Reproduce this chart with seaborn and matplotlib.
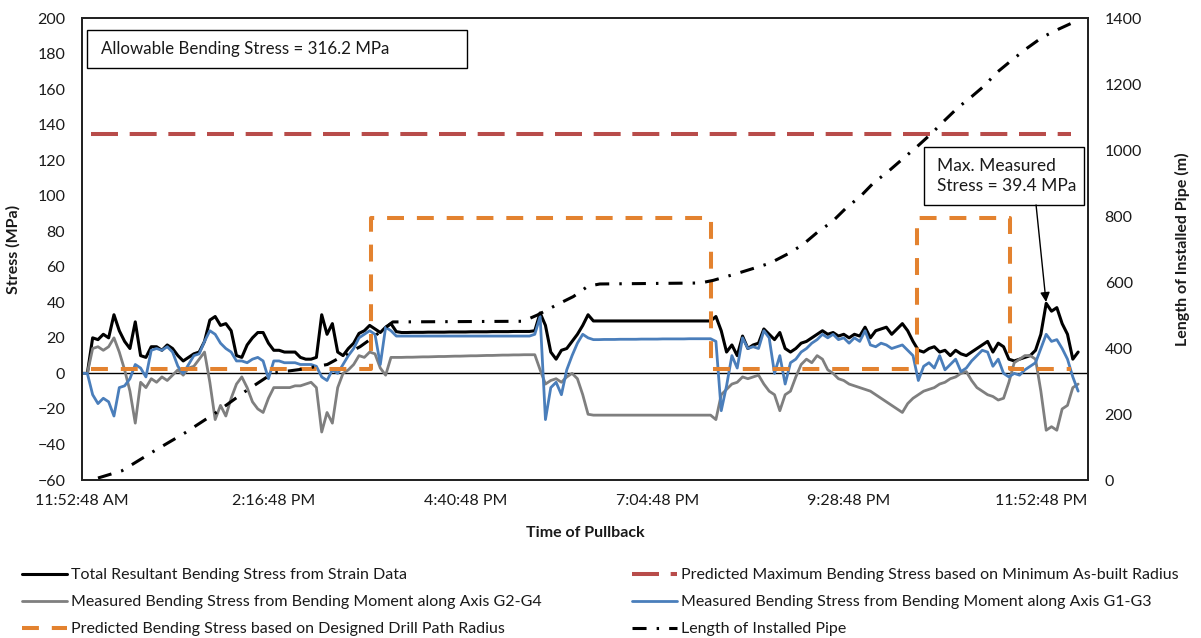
import numpy as np
import pandas as pd
import matplotlib
matplotlib.use("Agg")
import matplotlib.pyplot as plt
import seaborn as sns
from matplotlib.patches import Rectangle

# ---------------- data ----------------
START_H = 11.88  # 11:52:48 AM in hours

# logger time stamps, minutes after 11:52:48 AM
time_min = [
    0, 4, 8, 12, 16, 20, 24, 28, 32, 36,
    40, 44, 48, 52, 56, 60, 64, 68, 72, 76,
    80, 84, 88, 92, 96, 100, 104, 108, 112, 116,
    120, 124, 128, 132, 136, 140, 144, 148, 152, 156,
    160, 164, 168, 172, 176, 180, 184, 188, 192, 196,
    200, 204, 208, 212, 216, 220, 224, 228, 232, 236,
    240, 244, 248, 252, 256, 260, 264, 268, 272, 276,
    280, 284, 288, 292, 296, 300, 304, 308, 312, 316,
    320, 324, 328, 332, 336, 340, 344, 348, 352, 356,
    360, 364, 368, 372, 376, 380, 384, 388, 392, 396,
    400, 404, 408, 412, 416, 420, 424, 428, 432, 436,
    440, 444, 448, 452, 456, 460, 464, 468, 472, 476,
    480, 484, 488, 492, 496, 500, 504, 508, 512, 516,
    520, 524, 528, 532, 536, 540, 544, 548, 552, 556,
    560, 564, 568, 572, 576, 580, 584, 588, 592, 596,
    600, 604, 608, 612, 616, 620, 624, 628, 632, 636,
    640, 644, 648, 652, 656, 660, 664, 668, 672, 676,
    680, 684, 688, 692, 696, 700, 704, 708, 712, 716,
    720, 724, 728, 732, 736, 740, 744, 748,
]

total_stress = [
    0, 0, 20, 19, 22, 20, 33, 24, 18, 14,
    29, 10, 9, 15, 15, 13, 16, 14, 10, 7,
    9, 11, 12, 18, 30, 32, 27, 28, 24, 10,
    9, 16, 20, 23, 23, 17, 13, 13, 12, 12,
    12, 9, 8, 8, 9, 33, 22, 28, 12, 10,
    14, 17, 22.5, 24, 27, 25, 23, 26, 28, 23.5,
    23.0, 23.0, 23.1, 23.1, 23.1, 23.2, 23.2, 23.2, 23.2, 23.3,
    23.3, 23.3, 23.3, 23.4, 23.4, 23.4, 23.4, 23.5, 23.5, 23.5,
    23.5, 23.6, 23.6, 23.6, 23.6, 24, 34, 27, 12, 8,
    13, 14, 18, 22, 27, 33, 29.5, 29.5, 29.5, 29.5,
    29.5, 29.5, 29.5, 29.5, 29.5, 29.5, 29.5, 29.5, 29.5, 29.5,
    29.5, 29.5, 29.5, 29.5, 29.5, 29.5, 29.5, 29.5, 29.5, 32,
    24, 12, 16, 10, 21, 14, 16, 17, 25, 22,
    19, 23, 14, 12, 14, 17, 18, 20, 22, 24,
    22, 23, 21, 22, 20, 22, 21, 26, 20, 24,
    25, 26, 22, 25, 28, 24, 18, 13, 12, 14,
    15, 12, 13, 10, 13, 11, 10, 12, 14, 16,
    18, 12, 17, 15, 8, 7, 8, 9, 10, 13,
    22, 39.4, 35, 37, 28, 22, 8, 12,
]

g2g4_stress = [
    0, 0, 14, 15, 13, 15, 20, 12, 2, -10,
    -28, -5, -8, -3, -5, -2, -4, -1, 2, -1,
    3, 4, 8, 12, -5, -26, -18, -24, -14, -6,
    -2, -8, -16, -20, -22, -14, -8, -8, -8, -8,
    -7, -7, -6, -5, -8, -33, -22, -28, -8, 0,
    2, 5, 10, 9, 12, 11, 3, -1, 9, 9,
    9.0, 9.1, 9.1, 9.2, 9.3, 9.3, 9.4, 9.5, 9.5, 9.6,
    9.7, 9.7, 9.8, 9.9, 9.9, 10.0, 10.1, 10.1, 10.2, 10.3,
    10.3, 10.4, 10.4, 10.5, 10.5, 10.5, 2, -6, -4, -3,
    -5, -2, 0, -3, -12, -23, -23.5, -23.5, -23.5, -23.5,
    -23.5, -23.5, -23.5, -23.5, -23.5, -23.5, -23.5, -23.5, -23.5, -23.5,
    -23.5, -23.5, -23.5, -23.5, -23.5, -23.5, -23.5, -23.5, -23.5, -26,
    -12, -9, -6, -5, -2, -3, -2, -1, -6, -10,
    -12, -21, -12, -10, -2, 5, 8, 6, 10, 8,
    2, 0, -3, -4, -6, -7, -8, -9, -10, -12,
    -14, -16, -18, -20, -22, -17, -14, -12, -10, -9,
    -8, -6, -5, -3, -2, 0, 1, -4, -8, -10,
    -12, -13, -15, -14, -5, 6, 8, 10, 10, 8,
    -10, -32, -30, -32, -20, -18, -8, -6,
]

g1g3_stress = [
    0, 0, -12, -17, -14, -16, -24, -8, -7, -3,
    5, 3, -2, 13, 14, 13, 15, 12, 4, 0,
    5, 10, 11, 18, 24, 22, 17, 14, 12, 7,
    7, 6, 8, 9, 7, -3, 7, 7, 6, 6,
    6, 5, 5, 5, 4, -2, -4, 2, 0, 5,
    10, 14, 20, 22, 24, 22, 5, 26, 24, 21,
    21, 21, 21, 21, 21, 21, 21, 21, 21, 21,
    21, 21, 21, 21, 21, 21, 21, 21, 21, 21,
    21, 21, 21, 21, 21, 22, 32, -26, -8, -5,
    -12, 2, 10, 17, 22, 20, 19.0, 19.0, 19.1, 19.1,
    19.1, 19.2, 19.2, 19.2, 19.2, 19.3, 19.3, 19.3, 19.3, 19.4,
    19.4, 19.4, 19.4, 19.4, 19.5, 19.5, 19.5, 19.5, 19.5, 18,
    -21, -7, 10, 3, 20, 14, 15, 14, 24, 20,
    0, 10, -6, 6, 8, 12, 14, 17, 19, 22,
    20, 22, 19, 20, 17, 20, 18, 24, 16, 15,
    17, 16, 14, 15, 16, 13, 10, -4, 4, 6,
    3, 10, 2, 5, 8, 1, 3, 7, 10, 13,
    12, 4, 8, 0, -2, 0, -1, 2, 4, 6,
    14, 22, 18, 19, 14, 8, -2, -10,
]

# predicted stress from designed drill path radius (MPa) vs time (h)
design_h = [11.99, 15.50, 15.50, 19.75, 19.75, 22.33, 22.33, 23.49, 23.49, 24.26]
design_stress = [2.5, 2.5, 87.6, 87.6, 2.5, 2.5, 87.6, 87.6, 2.5, 2.5]

# predicted max stress from minimum as-built radius (MPa)
asbuilt_h = [11.99, 24.26]
asbuilt_stress = [135, 135]

# length of installed pipe (m) vs time (h)
length_h = [12.08, 12.38, 12.77, 13.17, 13.55, 13.92, 14.27, 14.61, 14.95, 15.36,
            15.51, 15.77, 17.40, 17.58, 17.83, 18.03, 18.21, 18.36, 19.62, 19.78,
            20.08, 20.28, 20.49, 20.72, 20.90, 21.08, 21.27, 21.45, 21.62, 21.78,
            21.97, 22.16, 22.33, 22.52, 22.66, 22.84, 23.02, 23.16, 23.34, 23.52,
            23.71, 23.90, 24.10, 24.28]
length_m = [6, 28, 86, 143, 203, 268, 324, 335, 350, 404,
            430, 479, 481, 500, 532, 556, 587, 594, 597, 605,
            626, 641, 657, 686, 713, 750, 783, 826, 859, 899,
            935, 975, 1010, 1052, 1086, 1128, 1163, 1192, 1237, 1273,
            1309, 1342, 1366, 1386]

tick_h = [11.88, 14.28, 16.68, 19.08, 21.48, 23.88]
tick_labels = ["11:52:48 AM", "2:16:48 PM", "4:40:48 PM",
               "7:04:48 PM", "9:28:48 PM", "11:52:48 PM"]

labels = {
    "total": "Total Resultant Bending Stress from Strain Data",
    "g2g4": "Measured Bending Stress from Bending Moment along Axis G2-G4",
    "design": "Predicted Bending Stress based on Designed Drill Path Radius",
    "asbuilt": "Predicted Maximum Bending Stress based on Minimum As-built Radius",
    "g1g3": "Measured Bending Stress from Bending Moment along Axis G1-G3",
    "length": "Length of Installed Pipe",
}

# ---------------- plot ----------------
sns.set_theme(style="white")
plt.rcParams["font.family"] = ["Lato", "DejaVu Sans"]
TXT = "#1a1a1a"
FS = 11.5

W, H = 1201, 638
fig = plt.figure(figsize=(W / 100, H / 100), dpi=100)
L, R, T, B = 82, 1088, 18, 480
ax = fig.add_axes([L / W, 1 - B / H, (R - L) / W, (B - T) / H])

df = pd.DataFrame({
    "h": START_H + np.array(time_min) / 60.0,
    "total": total_stress,
    "g2g4": g2g4_stress,
    "g1g3": g1g3_stress,
})
dd = pd.DataFrame({"h": design_h, "s": design_stress})
da = pd.DataFrame({"h": asbuilt_h, "s": asbuilt_stress})
dl = pd.DataFrame({"h": length_h, "m": length_m})

handles = {}
common = dict(estimator=None, sort=False, legend=False)

sns.lineplot(data=df, x="h", y="total", ax=ax, color="black", lw=2.2, **common)
handles["total"] = ax.lines[-1]
sns.lineplot(data=df, x="h", y="g2g4", ax=ax, color="#7f7f7f", lw=2.0, **common)
handles["g2g4"] = ax.lines[-1]
sns.lineplot(data=df, x="h", y="g1g3", ax=ax, color="#4a7ebb", lw=2.0, **common)
handles["g1g3"] = ax.lines[-1]
sns.lineplot(data=dd, x="h", y="s", ax=ax, color="#e3822f", lw=2.9,
             linestyle=(0, (4.2, 3.2)), **common)
handles["design"] = ax.lines[-1]
sns.lineplot(data=da, x="h", y="s", ax=ax, color="#b84c4a", lw=2.9,
             linestyle=(0, (6.7, 2.9)), **common)
handles["asbuilt"] = ax.lines[-1]

ax.axhline(0, color="black", lw=1.0, zorder=1.5)

ax.set_xlim(11.88, 24.47)
ax.set_ylim(-60, 200)
ax.set_yticks(np.arange(-60, 201, 20))
ax.set_xticks(tick_h)
ax.set_xticklabels(tick_labels)
ax.tick_params(axis="both", length=0, labelsize=FS, colors=TXT)
ax.tick_params(axis="y", pad=12)
ax.tick_params(axis="x", pad=10)
ax.set_xlabel("Time of Pullback", fontweight="bold", fontsize=FS, color=TXT, labelpad=13)
ax.set_ylabel("Stress (MPa)", fontweight="bold", fontsize=FS, color=TXT, labelpad=12)

ax2 = ax.twinx()
sns.lineplot(data=dl, x="h", y="m", ax=ax2, color="black", lw=2.2,
             linestyle=(0, (4.6, 3.3, 0.8, 3.3)), **common)
handles["length"] = ax2.lines[-1]
ax2.set_ylim(0, 1400)
ax2.set_yticks(np.arange(0, 1401, 200))
ax2.tick_params(axis="y", length=0, labelsize=FS, colors=TXT, pad=12)
ax2.set_ylabel("Length of Installed Pipe (m)", fontweight="bold", fontsize=FS,
               color=TXT, labelpad=24)
ax2.set_xlim(11.88, 24.47)

for a in (ax, ax2):
    for sp in a.spines.values():
        sp.set_color("#222222")
        sp.set_linewidth(1.3)

# text boxes
def axfrac(px, py):
    return (px - L) / (R - L), (B - py) / (B - T)

x0, y0 = axfrac(87, 68)
x1, y1 = axfrac(467, 30)
ax2.add_patch(Rectangle((x0, y0), x1 - x0, y1 - y0, transform=ax2.transAxes,
                        facecolor="white", edgecolor="black", lw=1.0, zorder=5))
tx, ty = axfrac(101, 49)
ax2.text(tx, ty, "Allowable Bending Stress = 316.2 MPa", transform=ax2.transAxes,
         ha="left", va="center", fontsize=12.2, color=TXT, zorder=6)

x0, y0 = axfrac(924, 205)
x1, y1 = axfrac(1084, 147)
ax2.add_patch(Rectangle((x0, y0), x1 - x0, y1 - y0, transform=ax2.transAxes,
                        facecolor="white", edgecolor="black", lw=1.0, zorder=5))
tx, ty = axfrac(937, 176)
ax2.text(tx, ty, "Max. Measured\nStress = 39.4 MPa", transform=ax2.transAxes,
         ha="left", va="center", fontsize=12.5, color=TXT, linespacing=1.35, zorder=6)

imax = int(np.argmax(total_stress))
t_max = START_H + time_min[imax] / 60.0
ax2.annotate("", xy=(t_max, total_stress[imax]), xycoords=ax.transData,
             xytext=(23.82, 94.8), textcoords=ax.transData,
             arrowprops=dict(arrowstyle="-|>", color="black", lw=1.0,
                             mutation_scale=14, shrinkA=0, shrinkB=1),
             zorder=6)

# legends (two columns placed below the plot)
left_keys = ["total", "g2g4", "design"]
right_keys = ["asbuilt", "g1g3", "length"]
leg_kw = dict(frameon=False, fontsize=FS, handlelength=2.8, handletextpad=0.25,
              labelspacing=0.80, borderpad=0, borderaxespad=0, loc="upper left",
              labelcolor=TXT)
leg1 = fig.legend([handles[k] for k in left_keys], [labels[k] for k in left_keys],
                  bbox_to_anchor=(22 / W, 1 - 568 / H), **leg_kw)
leg2 = fig.legend([handles[k] for k in right_keys], [labels[k] for k in right_keys],
                  bbox_to_anchor=(632 / W, 1 - 568 / H), **leg_kw)

fig.savefig("out.png", dpi=100)
